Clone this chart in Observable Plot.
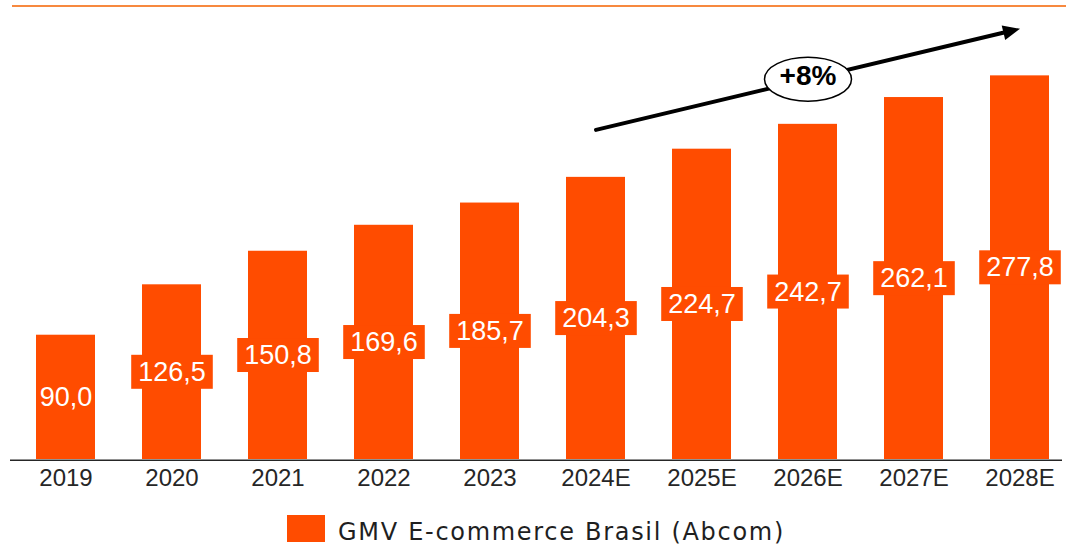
<!DOCTYPE html>
<html><head><meta charset="utf-8">
<script src="https://cdn.jsdelivr.net/npm/d3@7"></script>
<script src="https://cdn.jsdelivr.net/npm/@observablehq/plot@0.6"></script>
<style>
html,body{margin:0;padding:0;background:#fff;}
#wrap{position:relative;width:1068px;height:546px;overflow:hidden;background:#fff;}
#chart{position:absolute;left:0;top:0;}
#topline{position:absolute;left:12px;top:5px;width:1054px;height:2px;background:#F7893F;}
#legend-swatch{position:absolute;left:287px;top:515px;width:38px;height:27px;background:#FF4C00;}
#legend-text{position:absolute;left:338px;top:520px;font-family:"DejaVu Sans";font-size:24px;line-height:24px;letter-spacing:1.7px;color:#1f1f1f;white-space:nowrap;}
</style></head>
<body>
<div id="wrap">
  <div id="chart"></div>
  <div id="topline"></div>
  <div id="legend"><div id="legend-swatch"></div><div id="legend-text"></div></div>
</div>
<script>
// ---- data ----
const years = ["2019","2020","2021","2022","2023","2024E","2025E","2026E","2027E","2028E"];
const gmv = [90.0,126.5,150.8,169.6,185.7,204.3,224.7,242.7,262.1,277.8];
const seriesName = "GMV E-commerce Brasil (Abcom)";
const growthLabel = "+8%";
const arrowFrom = {x: "2024E", y: 238.7};
const arrowTo = {x: "2028E", y: 311.9};
const badge = {x: "2026E", y: 275.4};

const fmt = v => v.toFixed(1).replace(".", ",");
const labels = gmv.map(fmt);
const data = years.map((year, i) => ({year, value: gmv[i], label: labels[i]}));

const barColor = "#FF4C00";

const headSymbol = {draw(ctx) { ctx.moveTo(0, 0); ctx.lineTo(-7.5, 17); ctx.lineTo(7.5, 17); ctx.closePath(); }};
const ellipseSymbol = {draw(ctx) {
  const rx = 43.5, ry = 22, k = 0.5523;
  ctx.moveTo(-rx, 0);
  ctx.bezierCurveTo(-rx, -ry * k, -rx * k, -ry, 0, -ry);
  ctx.bezierCurveTo(rx * k, -ry, rx, -ry * k, rx, 0);
  ctx.bezierCurveTo(rx, ry * k, rx * k, ry, 0, ry);
  ctx.bezierCurveTo(-rx * k, ry, -rx, ry * k, -rx, 0);
  ctx.closePath();
}};

const plot = Plot.plot({
  width: 1068, height: 500,
  marginLeft: 33, marginRight: 16, marginTop: 44.7, marginBottom: 41,
  style: {background: "transparent", overflow: "visible", fontFamily: "Liberation Sans", fontSize: "24px"},
  x: {domain: years, paddingInner: 0.445, paddingOuter: 0, label: null},
  y: {domain: [0, 300], axis: null},
  marks: [
    Plot.barY(data, {x: "year", y: "value", fill: barColor}),
    Plot.ruleY([0], {stroke: "#262626", strokeWidth: 1.5, insetLeft: -23, insetRight: -10, dy: 0.75}),
    Plot.text(data, {x: "year", y: d => d.value / 2, text: "label", fill: "white", fontSize: 27, fontFamily: "Liberation Sans"}),
    Plot.axisX({tickSize: 0, tickPadding: 9, fontSize: 24, fontFamily: "Liberation Sans", color: "#262626", label: null}),
    Plot.arrow([{from: arrowFrom, to: arrowTo}], {
      x1: d => d.from.x, y1: d => d.from.y, x2: d => d.to.x, y2: d => d.to.y,
      stroke: "black", strokeWidth: 4, headLength: 0, insetEnd: 12, bend: 0
    }),
    Plot.dot([arrowTo], {x: "x", y: "y", symbol: headSymbol, fill: "black", stroke: "none", rotate: 76.6}),
    Plot.dot([badge], {x: "x", y: "y", symbol: ellipseSymbol, fill: "white", stroke: "black", strokeWidth: 1.5}),
    Plot.text([badge], {x: "x", y: "y", text: () => growthLabel, fontSize: 28, fontWeight: "bold", fontFamily: "Liberation Sans", fill: "black", dy: -3})
  ]
});
document.getElementById("chart").append(plot);
document.getElementById("legend-text").textContent = seriesName;

// orange boxes behind the value labels (not for the first one, as in the original)
const svgNS = "http://www.w3.org/2000/svg";
plot.querySelectorAll("text").forEach(t => {
  const idx = labels.indexOf(t.textContent);
  if (idx <= 0) return;
  const bb = t.getBBox();
  const r = document.createElementNS(svgNS, "rect");
  const cy = bb.y + bb.height / 2;
  r.setAttribute("x", bb.x - 7);
  r.setAttribute("width", bb.width + 14);
  r.setAttribute("y", cy - 17);
  r.setAttribute("height", 34);
  r.setAttribute("fill", barColor);
  r.setAttribute("stroke", "none");
  const tr = t.getAttribute("transform");
  if (tr) r.setAttribute("transform", tr);
  t.parentNode.insertBefore(r, t);
});
</script>
</body></html>
